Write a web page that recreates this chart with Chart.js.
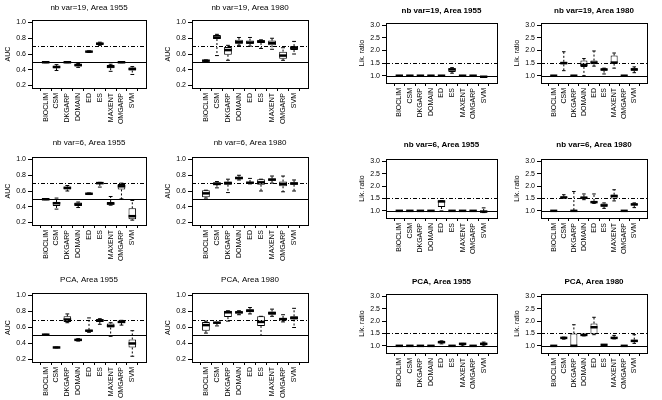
<!DOCTYPE html>
<html>
<head>
<meta charset="utf-8">
<script src="https://cdn.jsdelivr.net/npm/chart.js@4.4.0/dist/chart.umd.min.js"></script>
<style>
  body { margin: 0; background: #fff; width: 662px; height: 400px; position: relative; overflow: hidden; }
  canvas { position: absolute; }
</style>
</head>
<body>
<script>
const categories = ['BIOCLIM', 'CSM', 'DKGARP', 'DOMAIN', 'ED', 'ES', 'MAXENT', 'OMGARP', 'SVM'];
const aucTicks = [0.2, 0.4, 0.6, 0.8, 1.0];
const likTicks = [1.0, 1.5, 2.0, 2.5, 3.0];
const aucRefs = [0.5, 0.7];   // solid, dash-dot
const likRefs = [1.0, 1.5];

// each box: [min, q1, median, q3, max]
const auc19_1955 = [[0.49,0.49,0.495,0.5,0.5],[0.39,0.42,0.435,0.45,0.465],[0.49,0.49,0.495,0.5,0.5],[0.43,0.44,0.46,0.47,0.48],[0.62,0.625,0.63,0.635,0.64],[0.71,0.72,0.73,0.745,0.75],[0.38,0.42,0.44,0.46,0.47],[0.49,0.49,0.495,0.5,0.5],[0.34,0.39,0.41,0.43,0.44]];
const auc19_1980 = [[0.505,0.51,0.515,0.52,0.525],[0.58,0.79,0.81,0.84,0.85],[0.52,0.59,0.65,0.69,0.71],[0.71,0.73,0.75,0.78,0.81],[0.70,0.73,0.745,0.77,0.81],[0.67,0.74,0.76,0.775,0.78],[0.66,0.71,0.74,0.77,0.80],[0.52,0.54,0.58,0.63,0.68],[0.60,0.65,0.68,0.70,0.76]];
const lik19_1955 = [[0.99,0.99,1.0,1.01,1.01],[0.99,0.99,1.0,1.01,1.01],[0.99,0.99,1.0,1.01,1.01],[0.99,0.99,1.0,1.01,1.01],[0.99,0.99,1.0,1.01,1.01],[1.1,1.15,1.25,1.3,1.32],[0.99,0.99,1.0,1.01,1.01],[0.99,0.99,1.0,1.01,1.01],[0.95,0.95,0.96,0.97,0.97]];
const lik19_1980 = [[0.99,0.99,1.0,1.01,1.01],[1.2,1.45,1.5,1.55,1.95],[0.99,0.99,1.0,1.01,1.01],[1.0,1.35,1.43,1.6,1.68],[1.38,1.45,1.52,1.6,1.98],[1.07,1.2,1.25,1.28,1.3],[1.3,1.48,1.52,1.8,1.9],[0.99,0.99,1.0,1.01,1.01],[1.12,1.2,1.25,1.3,1.35]];
const auc6_1955 = [[0.49,0.49,0.495,0.5,0.5],[0.37,0.41,0.445,0.46,0.51],[0.60,0.62,0.64,0.655,0.67],[0.39,0.41,0.43,0.455,0.46],[0.555,0.56,0.565,0.57,0.575],[0.65,0.69,0.70,0.71,0.71],[0.42,0.43,0.44,0.46,0.53],[0.50,0.62,0.66,0.69,0.70],[0.23,0.24,0.28,0.38,0.48]];
const auc6_1980 = [[0.51,0.52,0.57,0.61,0.61],[0.64,0.68,0.69,0.71,0.72],[0.58,0.68,0.70,0.72,0.75],[0.74,0.75,0.765,0.78,0.80],[0.69,0.70,0.705,0.715,0.76],[0.60,0.68,0.71,0.75,0.75],[0.70,0.73,0.745,0.76,0.79],[0.59,0.66,0.69,0.72,0.79],[0.60,0.68,0.695,0.71,0.74]];
const lik6_1955 = [[0.99,0.99,1.0,1.01,1.01],[0.99,0.99,1.0,1.01,1.01],[0.99,0.99,1.0,1.01,1.01],[0.99,0.99,1.0,1.01,1.01],[1.0,1.16,1.38,1.41,1.41],[0.99,0.99,1.0,1.01,1.01],[0.99,0.99,1.0,1.01,1.01],[0.99,0.99,1.0,1.01,1.01],[0.93,0.95,0.97,1.0,1.12]];
const lik6_1980 = [[0.99,0.99,1.0,1.01,1.01],[1.52,1.52,1.54,1.57,1.65],[1.0,1.0,1.0,1.03,1.78],[1.45,1.5,1.53,1.57,1.68],[1.3,1.32,1.35,1.4,1.68],[1.1,1.17,1.22,1.3,1.32],[1.4,1.5,1.6,1.65,1.85],[0.99,0.99,1.0,1.01,1.01],[1.13,1.22,1.26,1.3,1.32]];
const aucPca_1955 = [[0.505,0.505,0.51,0.51,0.515],[0.345,0.35,0.35,0.355,0.355],[0.66,0.67,0.70,0.74,0.77],[0.43,0.435,0.445,0.455,0.46],[0.54,0.55,0.56,0.57,0.72],[0.64,0.67,0.69,0.70,0.71],[0.49,0.60,0.62,0.65,0.66],[0.63,0.655,0.67,0.68,0.69],[0.24,0.35,0.40,0.45,0.56]];
const aucPca_1980 = [[0.53,0.56,0.63,0.67,0.68],[0.62,0.655,0.66,0.665,0.665],[0.68,0.73,0.79,0.81,0.81],[0.76,0.775,0.79,0.80,0.81],[0.77,0.79,0.81,0.83,0.85],[0.50,0.62,0.67,0.74,0.74],[0.74,0.76,0.78,0.80,0.83],[0.67,0.69,0.705,0.72,0.76],[0.60,0.70,0.72,0.74,0.84]];
const likPca_1955 = [[0.99,0.99,1.0,1.01,1.01],[0.99,0.99,1.0,1.01,1.01],[0.99,0.99,1.0,1.01,1.01],[0.99,0.99,1.0,1.01,1.01],[1.08,1.1,1.15,1.18,1.2],[0.99,0.99,1.0,1.01,1.01],[1.0,1.07,1.08,1.1,1.1],[0.99,0.99,1.0,1.01,1.01],[1.0,1.03,1.08,1.12,1.15]];
const likPca_1980 = [[0.99,0.99,1.0,1.01,1.01],[1.27,1.3,1.32,1.35,1.35],[1.0,1.0,1.0,1.5,1.85],[1.4,1.42,1.44,1.47,1.47],[1.45,1.47,1.75,1.9,2.15],[1.02,1.03,1.04,1.05,1.05],[1.28,1.3,1.32,1.35,1.42],[0.99,0.99,1.0,1.01,1.01],[1.1,1.15,1.2,1.25,1.45]];

// plot boxes [left, top, right, bottom] and title y, in page pixels
const panels = [
  { t: 'nb var=19, Area 1955', d: auc19_1955, k: 'auc', box: [32, 20, 146, 88], ty: 8 },
  { t: 'nb var=19, Area 1980', d: auc19_1980, k: 'auc', box: [192, 20, 308, 88], ty: 8 },
  { t: 'nb var=19, Area 1955', d: lik19_1955, k: 'lik', box: [386, 23, 497, 83], ty: 11 },
  { t: 'nb var=19, Area 1980', d: lik19_1980, k: 'lik', box: [541, 23, 647, 83], ty: 11 },
  { t: 'nb var=6, Area 1955', d: auc6_1955, k: 'auc', box: [32, 157, 146, 225], ty: 143 },
  { t: 'nb var=6, Area 1980', d: auc6_1980, k: 'auc', box: [192, 157, 308, 225], ty: 143 },
  { t: 'nb var=6, Area 1955', d: lik6_1955, k: 'lik', box: [386, 159, 497, 218], ty: 145 },
  { t: 'nb var=6, Area 1980', d: lik6_1980, k: 'lik', box: [541, 159, 647, 218], ty: 145 },
  { t: 'PCA, Area 1955', d: aucPca_1955, k: 'auc', box: [32, 293, 146, 362], ty: 280 },
  { t: 'PCA, Area 1980', d: aucPca_1980, k: 'auc', box: [192, 293, 308, 362], ty: 280 },
  { t: 'PCA, Area 1955', d: likPca_1955, k: 'lik', box: [386, 294, 497, 353], ty: 282 },
  { t: 'PCA, Area 1980', d: likPca_1980, k: 'lik', box: [541, 294, 647, 353], ty: 282 }
];

const FONT = 'Arial, "Liberation Sans", sans-serif';

const boxPlugin = {
  id: 'boxes',
  afterDatasetsDraw(chart) {
    const o = chart.options.plugins.boxes;
    const { ctx, chartArea: a, scales: { x, y } } = chart;
    const meta = chart.getDatasetMeta(0);
    ctx.save();
    ctx.strokeStyle = '#000';
    o.stats.forEach((s, i) => {
      const cx = x.getPixelForValue(i + 1);
      const hw = meta.data[i].width / 2;
      const [mn, q1, md, q3, mx] = s.map(v => y.getPixelForValue(v));
      ctx.lineWidth = 1;
      ctx.setLineDash([2, 2]);
      ctx.beginPath();
      ctx.moveTo(cx, q3); ctx.lineTo(cx, mx);
      ctx.moveTo(cx, q1); ctx.lineTo(cx, mn);
      ctx.stroke();
      ctx.setLineDash([]);
      ctx.beginPath();
      ctx.moveTo(cx - hw / 2, mx); ctx.lineTo(cx + hw / 2, mx);
      ctx.moveTo(cx - hw / 2, mn); ctx.lineTo(cx + hw / 2, mn);
      ctx.stroke();
      ctx.lineWidth = 2.5;
      ctx.beginPath();
      ctx.moveTo(cx - hw, md); ctx.lineTo(cx + hw, md);
      ctx.stroke();
    });
    // reference lines
    ctx.lineWidth = 1;
    const y0 = Math.round(y.getPixelForValue(o.refs[0])) + 0.5;
    ctx.beginPath(); ctx.moveTo(a.left, y0); ctx.lineTo(a.right, y0); ctx.stroke();
    const y1 = Math.round(y.getPixelForValue(o.refs[1])) + 0.5;
    ctx.setLineDash([4, 2, 1, 2]);
    ctx.beginPath(); ctx.moveTo(a.left, y1); ctx.lineTo(a.right, y1); ctx.stroke();
    ctx.setLineDash([]);
    // frame
    ctx.strokeRect(Math.round(a.left) + 0.5, Math.round(a.top) + 0.5, Math.round(a.right - a.left), Math.round(a.bottom - a.top));
    // title
    ctx.fillStyle = '#000';
    ctx.font = (o.bold ? 'bold 8px ' : '8px ') + FONT;
    ctx.textAlign = 'center';
    ctx.textBaseline = 'middle';
    ctx.fillText(o.title, (a.left + a.right) / 2, a.top - o.titleGap);
    ctx.restore();
  }
};

panels.forEach(p => {
  const [l, t, r, b] = p.box;
  const cLeft = l - 32, cTop = t - 22;
  const w = r - l + 32 + 4, h = b - t + 22 + 48;
  const cv = document.createElement('canvas');
  cv.width = w; cv.height = h;
  cv.style.left = cLeft + 'px'; cv.style.top = cTop + 'px';
  cv.style.width = w + 'px'; cv.style.height = h + 'px';
  document.body.appendChild(cv);

  const isAuc = p.k === 'auc';
  const ticks = isAuc ? aucTicks : likTicks;
  new Chart(cv, {
    type: 'bar',
    data: {
      datasets: [{
        data: p.d.map((s, i) => ({ x: i + 1, y: [s[1], s[3]] })),
        backgroundColor: '#fff',
        borderColor: '#000',
        borderWidth: 1,
        borderSkipped: false,
        categoryPercentage: 1,
        barPercentage: 0.7
      }]
    },
    options: {
      responsive: false,
      animation: false,
      devicePixelRatio: 1,
      layout: { padding: { top: 22, right: 4, left: 0, bottom: 0 } },
      plugins: {
        legend: { display: false },
        tooltip: { enabled: false },
        boxes: { stats: p.d, refs: isAuc ? aucRefs : likRefs, title: p.t, bold: !isAuc, titleGap: t - p.ty }
      },
      scales: {
        x: {
          type: 'linear',
          min: 0.32, max: 9.68,
          afterBuildTicks: s => { s.ticks = categories.map((c, i) => ({ value: i + 1 })); },
          afterFit: s => { s.height = 48; },
          grid: { drawOnChartArea: false, drawTicks: true, tickLength: 3, color: '#000' },
          border: { display: true, color: '#000' },
          ticks: {
            autoSkip: false, minRotation: 90, maxRotation: 90, padding: 2,
            color: '#000', font: { family: FONT, size: 7 },
            callback: v => categories[v - 1]
          }
        },
        y: {
          min: isAuc ? 0.168 : 0.712,
          max: isAuc ? 1.032 : 3.088,
          afterBuildTicks: s => { s.ticks = ticks.map(v => ({ value: v })); },
          afterFit: s => { s.width = 32; },
          grid: { drawOnChartArea: false, drawTicks: true, tickLength: 4, color: '#000' },
          border: { display: true, color: '#000' },
          ticks: { padding: 2, color: '#000', font: { family: FONT, size: 7 }, callback: v => v.toFixed(1) },
          title: { display: true, text: isAuc ? 'AUC' : 'Lik. ratio', color: '#000', font: { family: FONT, size: 7 }, padding: { top: 4, bottom: 0 } }
        }
      }
    },
    plugins: [boxPlugin]
  });
});
</script>
</body>
</html>
